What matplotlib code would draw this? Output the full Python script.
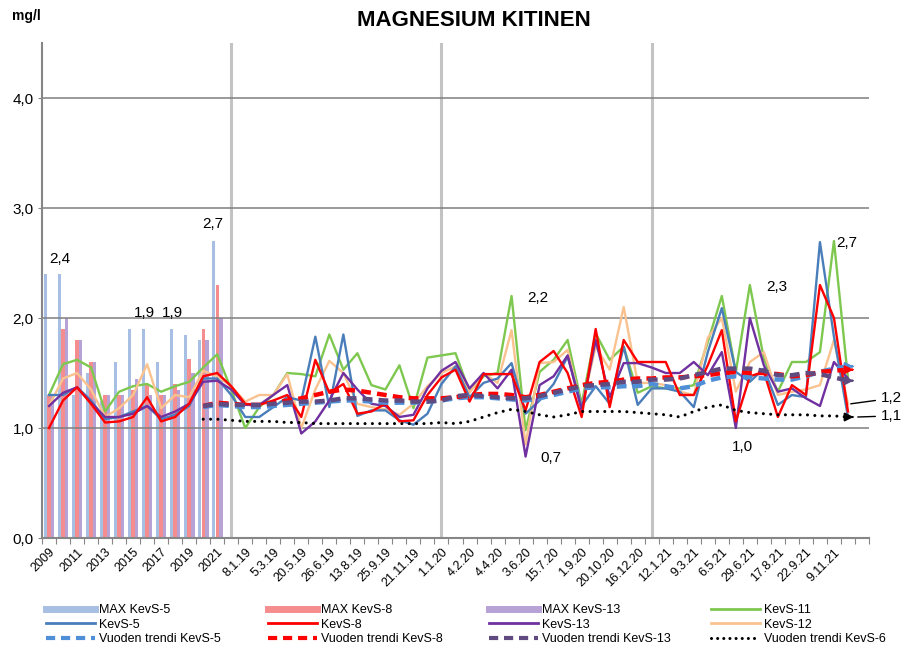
import matplotlib
matplotlib.use('Agg')
import matplotlib.pyplot as plt
from matplotlib.lines import Line2D
import numpy as np

plt.rcParams['font.family'] = ['Liberation Sans', 'DejaVu Sans']

nan = np.nan

# --- data -------------------------------------------------------------
# 13 yearly categories (2009-2021) followed by 46 sampling dates,
# only every second category carries a label in the original chart
years = ['2009', '2010', '2011', '2012', '2013', '2014', '2015',
         '2016', '2017', '2018', '2019', '2020', '2021']
date_labels = ['8.1.19', '5.3.19', '20.5.19', '26.6.19', '13.8.19', '25.9.19',
               '21.11.19', '1.1.20', '4.2.20', '4.4.20', '3.6.20', '15.7.20',
               '1.9.20', '20.10.20', '16.12.20', '12.1.21', '9.3.21', '6.5.21',
               '29.6.21', '17.8.21', '22.9.21', '9.11.21']
n_cat = 59

# yearly maxima (bars)
max_kevs5 = [2.4, 2.4, 1.3, 1.5, 1.25, 1.6, 1.9, 1.9, 1.6, 1.9, 1.85, 1.8, 2.7]
max_kevs8 = [1.3, 1.9, 1.8, 1.6, 1.3, 1.3, 1.35, 1.4, 1.3, 1.4, 1.63, 1.9, 2.3]
max_kevs13 = [1.3, 2.0, 1.8, 1.6, 1.3, 1.3, 1.45, 1.3, 1.3, 1.35, 1.5, 1.8, 2.0]

# measured values (yearly means, then single samples)
kevs5 = [1.3, 1.3, 1.37, 1.25, 1.08, 1.1, 1.15, 1.2, 1.08, 1.12, 1.2, 1.45, 1.45,
         1.3, 1.1, 1.1, 1.19, 1.28, 1.25, 1.83, 1.19, 1.85, 1.11, 1.16, 1.16, 1.07,
         1.03, 1.13, 1.4, 1.56, 1.28, 1.41, 1.45, 1.59, 1.13, 1.25, 1.4, 1.65, 1.2,
         1.38, 1.22, 1.74, 1.21, 1.36, 1.36, 1.33, 1.19, 1.69, 2.09, 1.51, 1.42,
         1.54, 1.21, 1.3, 1.28, 2.69, 1.83, 1.1, nan]
kevs8 = [1.0, 1.25, 1.37, 1.22, 1.05, 1.06, 1.1, 1.28, 1.06, 1.1, 1.22, 1.47, 1.5,
         1.38, 1.22, 1.21, 1.25, 1.3, 1.1, 1.62, 1.32, 1.4, 1.13, 1.15, 1.22, 1.06,
         1.07, 1.3, 1.46, 1.53, 1.24, 1.49, 1.49, 1.49, 1.16, 1.6, 1.7, 1.5, 1.1,
         1.9, 1.19, 1.8, 1.6, 1.6, 1.6, 1.3, 1.3, 1.57, 1.89, 1.06, 1.47, 1.51,
         1.1, 1.39, 1.3, 2.3, 2.0, 1.15, nan]
kevs13 = [1.2, 1.32, 1.37, 1.23, 1.1, 1.1, 1.13, 1.2, 1.1, 1.15, 1.22, 1.42, 1.43,
          1.35, 1.21, 1.21, 1.3, 1.39, 0.95, 1.06, 1.25, 1.5, 1.35, 1.22, 1.2, 1.1,
          1.12, 1.36, 1.52, 1.6, 1.36, 1.5, 1.36, 1.53, 0.74, 1.39, 1.47, 1.66, 1.16,
          1.8, 1.28, 1.59, 1.59, 1.55, 1.5, 1.5, 1.6, 1.48, 1.69, 1.0, 2.0, 1.57,
          1.33, 1.36, 1.27, 1.2, 1.6, 1.45, nan]
kevs11 = [1.3, 1.58, 1.62, 1.55, 1.15, 1.33, 1.38, 1.4, 1.33, 1.38, 1.42, 1.55, 1.67,
          1.35, 1.0, 1.19, 1.3, 1.5, 1.49, 1.47, 1.85, 1.53, 1.68, 1.39, 1.35, 1.57,
          1.18, 1.64, 1.66, 1.68, 1.33, 1.47, 1.5, 2.2, 0.98, 1.51, 1.62, 1.8, 1.22,
          1.86, 1.62, 1.74, 1.32, 1.38, 1.36, 1.36, 1.39, 1.78, 2.2, 1.51, 2.3, 1.63,
          1.33, 1.6, 1.6, 1.69, 2.7, 1.45, nan]
kevs12 = [1.2, 1.45, 1.5, 1.35, 1.1, 1.18, 1.3, 1.58, 1.18, 1.3, 1.28, 1.52, 1.47,
          1.38, 1.24, 1.3, 1.3, 1.49, 1.0, 1.35, 1.61, 1.5, 1.22, 1.19, 1.17, 1.12,
          1.22, 1.38, 1.5, 1.56, 1.32, 1.5, 1.41, 1.89, 0.85, 1.59, 1.6, 1.71, 1.19,
          1.74, 1.53, 2.1, 1.41, 1.41, 1.39, 1.33, 1.3, 1.82, 2.0, 1.33, 1.6, 1.69,
          1.3, 1.33, 1.35, 1.39, 1.8, 1.22, nan]

# yearly trends, from 2020 (category 11) to the last sample (category 57)
trend_start = 11
trend_kevs5 = [1.19, 1.21, 1.2, 1.19, 1.19, 1.2, 1.21, 1.22, 1.23, 1.24, 1.25, 1.25,
               1.24, 1.23, 1.23, 1.23, 1.24, 1.25, 1.27, 1.28, 1.28, 1.27, 1.26, 1.25,
               1.27, 1.3, 1.33, 1.36, 1.37, 1.37, 1.38, 1.38, 1.4, 1.38, 1.36, 1.38,
               1.43, 1.46, 1.47, 1.46, 1.45, 1.44, 1.44, 1.47, 1.51, 1.54, 1.56]
trend_kevs8 = [1.2, 1.23, 1.22, 1.21, 1.21, 1.23, 1.25, 1.27, 1.3, 1.33, 1.35, 1.34,
               1.32, 1.3, 1.28, 1.27, 1.27, 1.27, 1.28, 1.3, 1.31, 1.31, 1.3, 1.28,
               1.3, 1.33, 1.36, 1.39, 1.41, 1.42, 1.44, 1.45, 1.45, 1.46, 1.46, 1.47,
               1.48, 1.5, 1.51, 1.5, 1.5, 1.49, 1.47, 1.48, 1.51, 1.52, 1.53]
trend_kevs13 = [1.2, 1.22, 1.21, 1.21, 1.21, 1.22, 1.23, 1.24, 1.24, 1.25, 1.27, 1.27,
                1.26, 1.25, 1.25, 1.24, 1.24, 1.25, 1.29, 1.3, 1.29, 1.28, 1.27, 1.27,
                1.29, 1.32, 1.35, 1.38, 1.39, 1.4, 1.42, 1.42, 1.44, 1.44, 1.45, 1.48,
                1.51, 1.54, 1.54, 1.54, 1.52, 1.48, 1.48, 1.5, 1.49, 1.46, 1.43]
trend_kevs6 = [1.08, 1.08, 1.07, 1.06, 1.06, 1.06, 1.05, 1.05, 1.04, 1.04, 1.04, 1.04,
               1.04, 1.04, 1.04, 1.04, 1.04, 1.05, 1.04, 1.06, 1.1, 1.14, 1.17, 1.15,
               1.12, 1.1, 1.12, 1.15, 1.15, 1.15, 1.15, 1.14, 1.13, 1.12, 1.1, 1.15,
               1.19, 1.21, 1.16, 1.14, 1.13, 1.12, 1.12, 1.12, 1.11, 1.11, 1.1]

# value labels written on the chart: (text, category position, value)
value_labels = [('2,4', 0.8, 2.54), ('2,7', 11.7, 2.85), ('1,9', 6.8, 2.05),
                ('1,9', 8.8, 2.05), ('2,2', 34.9, 2.18), ('0,7', 35.8, 0.73),
                ('2,3', 51.9, 2.28), ('1,0', 49.5, 0.83), ('2,7', 56.9, 2.68)]

# --- colours ----------------------------------------------------------
c_max5, c_max8, c_max13 = '#a7bfe2', '#f58d8f', '#b7a2d6'
c_k5, c_k8, c_k13, c_k11, c_k12 = '#4a7ebb', '#ff0000', '#7030a0', '#7ec850', '#fac28f'
c_t5, c_t8, c_t13, c_t6 = '#4f8fd8', '#ff0000', '#5f4b80', '#000000'

# --- figure -----------------------------------------------------------
fig = plt.figure(figsize=(9.07, 6.47), dpi=100)
ax = fig.add_axes([42 / 907, 1 - 538 / 647, 827 / 907, 495 / 647])

x = np.arange(n_cat)
xy = np.arange(len(years))
xt = np.arange(trend_start, trend_start + len(trend_kevs5))

# gridlines and separators
for v in [1, 2, 3, 4]:
    ax.axhline(v, color='#7f7f7f', lw=1.1, zorder=1.5)
for c in [13, 28, 43]:
    ax.axvline(c, color='#c3c3c3', lw=2.2, zorder=1)

ax.bar(xy - 0.26, max_kevs5, width=0.24, color=c_max5, zorder=1.2)
ax.bar(xy, max_kevs8, width=0.24, color=c_max8, zorder=1.2)
ax.bar(xy + 0.26, max_kevs13, width=0.24, color=c_max13, zorder=1.2)

lw = 1.7
ax.plot(x, kevs11, color=c_k11, lw=lw, zorder=3)
ax.plot(x, kevs12, color=c_k12, lw=lw, zorder=3)
ax.plot(x, kevs5, color=c_k5, lw=lw, zorder=3.1)
ax.plot(x, kevs13, color=c_k13, lw=lw, zorder=3.2)
ax.plot(x, kevs8, color=c_k8, lw=lw, zorder=3.3)

dash = (0, (2.2, 1.4))
ax.plot(xt, trend_kevs5, color=c_t5, lw=3.2, ls=dash, zorder=4)
ax.plot(xt, trend_kevs8, color=c_t8, lw=3.2, ls=dash, zorder=4.1)
ax.plot(xt, trend_kevs13, color=c_t13, lw=3.2, ls=dash, zorder=4.2)
ax.plot(xt, trend_kevs6, color=c_t6, lw=2.2, ls=(0, (0.01, 2.4)),
        dash_capstyle='round', zorder=4.3)

# arrow heads at the end of the trends
for tr, col in [(trend_kevs5, c_t5), (trend_kevs8, c_t8),
                (trend_kevs13, c_t13), (trend_kevs6, c_t6)]:
    ax.annotate('', xy=(xt[-1] + 0.6, tr[-1]), xytext=(xt[-1] + 0.1, tr[-1]),
                arrowprops=dict(arrowstyle='-|>', color=col, lw=1.5,
                                mutation_scale=12), zorder=5)

for txt, px, py in value_labels:
    ax.text(px, py, txt, ha='center', va='center', fontsize=11, zorder=6)

# callouts on the right
ax.annotate('1,2', xy=(57.2, 1.22), xytext=(59.35, 1.27), ha='left', va='center',
            fontsize=11, annotation_clip=False,
            arrowprops=dict(arrowstyle='-', color='black', lw=1,
                            shrinkA=2, shrinkB=0))
ax.annotate('1,1', xy=(57.7, 1.10), xytext=(59.35, 1.11), ha='left', va='center',
            fontsize=11, annotation_clip=False,
            arrowprops=dict(arrowstyle='-', color='black', lw=1,
                            shrinkA=2, shrinkB=0))

# axes
ax.set_xlim(-0.5, n_cat - 0.5)
ax.set_ylim(0, 4.5)
ax.set_yticks([0, 1, 2, 3, 4])
ax.set_yticklabels(['0,0', '1,0', '2,0', '3,0', '4,0'], fontsize=11)
ax.tick_params(axis='y', length=3, color='#868686', pad=3)

label_pos = list(range(0, 13, 2)) + list(range(14, 57, 2))
tick_texts = years[::2] + date_labels
ax.set_xticks(np.arange(-0.5, n_cat, 1))
ax.set_xticklabels([])
ax.set_xticks(label_pos, minor=True)
ax.set_xticklabels(tick_texts, minor=True, rotation=45, ha='right',
                   rotation_mode='anchor', fontsize=9)
ax.tick_params(axis='x', which='major', length=4, color='#868686')
ax.tick_params(axis='x', which='minor', length=0, pad=6)

for s in ['top', 'right']:
    ax.spines[s].set_visible(False)
for s in ['left', 'bottom']:
    ax.spines[s].set_color('#868686')
    ax.spines[s].set_linewidth(1.5)

fig.text(474 / 907, 1 - 20 / 647, 'MAGNESIUM KITINEN', ha='center', va='center',
         fontsize=16, fontweight='bold')
fig.text(12 / 907, 1 - 16 / 647, 'mg/l', ha='left', va='center',
         fontsize=10, fontweight='bold')

# legend, one block per column
cols = [
    ([Line2D([], [], color=c_max5, lw=5), Line2D([], [], color=c_k5, lw=2),
      Line2D([], [], color=c_t5, lw=3, ls=dash)],
     ['MAX KevS-5', 'KevS-5', 'Vuoden trendi KevS-5'], 40),
    ([Line2D([], [], color=c_max8, lw=5), Line2D([], [], color=c_k8, lw=2),
      Line2D([], [], color=c_t8, lw=3, ls=dash)],
     ['MAX KevS-8', 'KevS-8', 'Vuoden trendi KevS-8'], 262),
    ([Line2D([], [], color=c_max13, lw=5), Line2D([], [], color=c_k13, lw=2),
      Line2D([], [], color=c_t13, lw=3, ls=dash)],
     ['MAX KevS-13', 'KevS-13', 'Vuoden trendi KevS-13'], 483),
    ([Line2D([], [], color=c_k11, lw=2), Line2D([], [], color=c_k12, lw=2),
      Line2D([], [], color=c_t6, lw=2.2, ls=(0, (0.01, 2.0)), dash_capstyle='round')],
     ['KevS-11', 'KevS-12', 'Vuoden trendi KevS-6'], 705),
]
for handles, labels, px in cols:
    fig.legend(handles, labels, loc='upper left', bbox_to_anchor=(px / 907, 1 - 598 / 647),
               frameon=False, fontsize=9, borderpad=0, handlelength=3.9,
               handletextpad=0.35, labelspacing=0.2)

fig.savefig('out.png', dpi=100)
